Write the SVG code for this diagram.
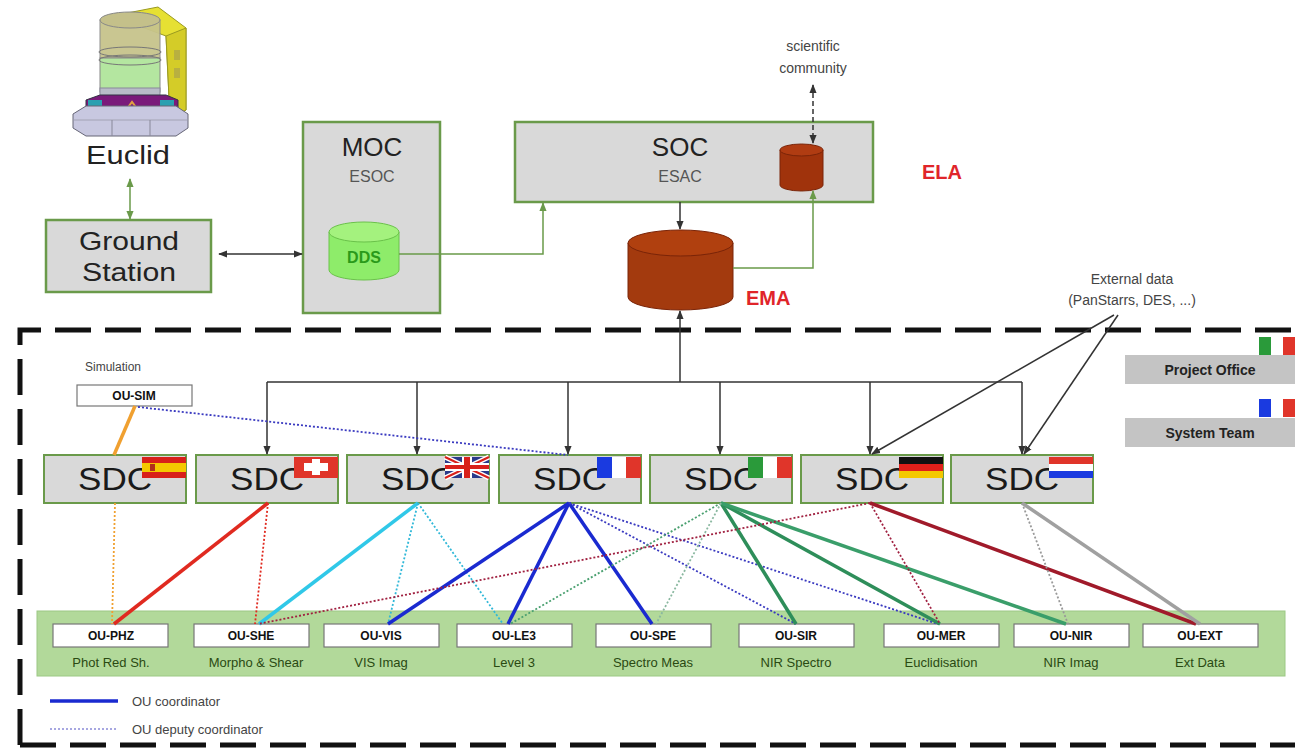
<svg xmlns="http://www.w3.org/2000/svg" width="1295" height="750" viewBox="0 0 1295 750">
<style>
  text { font-family: "Liberation Sans", Arial, sans-serif; }
  .box { fill: #d9d9d9; stroke: #6a9a4a; stroke-width: 2.5; }
  .sdc { fill: #d9d9d9; stroke: #6a9a4a; stroke-width: 2; }
  .big { font-size: 26px; fill: #222; text-anchor: middle; }
  .sdct { font-size: 31px; fill: #1a1a1a; }
  .sub { font-size: 16px; fill: #555; text-anchor: middle; }
  .red { font-size: 20px; font-weight: bold; fill: #e0252a; }
  .ou { fill: #fff; stroke: #777; stroke-width: 1.2; }
  .oul { font-size: 12px; font-weight: bold; fill: #111; text-anchor: middle; }
  .oud { font-size: 13px; fill: #2a4a12; text-anchor: middle; }
  .grey { font-size: 14px; fill: #444; text-anchor: middle; }
  .lk { fill: none; stroke: #333; stroke-width: 1.5; }
  .gk { fill: none; stroke: #6a9a4a; stroke-width: 1.5; }
  .co { fill: none; stroke-width: 3.5; }
  .dp { fill: none; stroke-width: 1.8; stroke-dasharray: 2 2; }
</style>
<defs>
  <marker id="ah" viewBox="0 0 10 10" refX="9" refY="5" markerWidth="6" markerHeight="6" orient="auto-start-reverse">
    <path d="M0,1 L10,5 L0,9 z" fill="#333"/>
  </marker>
  <marker id="ahg" viewBox="0 0 10 10" refX="9" refY="5" markerWidth="6" markerHeight="6" orient="auto-start-reverse">
    <path d="M0,1 L10,5 L0,9 z" fill="#6a9a4a"/>
  </marker>
</defs>

<!-- spacecraft -->
<g id="euclid">
  <!-- sunshield -->
  <polygon points="112,16 158,7 186,28 186,110 170,118 166,36" fill="#e6e033" stroke="#9a9a20" stroke-width="1"/>
  <polygon points="166,36 186,28 186,110 170,118" fill="#d4cc28" stroke="#9a9a20" stroke-width="1"/>
  <rect x="174" y="50" width="6" height="10" fill="#b8b040"/>
  <rect x="174" y="68" width="6" height="10" fill="#b8b040"/>
  <!-- telescope tube -->
  <rect x="100" y="20" width="60" height="38" fill="#c7c48c" stroke="#888" stroke-width="1" opacity="0.95"/>
  <rect x="100" y="58" width="60" height="34" fill="#b4e6a0" stroke="#888" stroke-width="1"/>
  <ellipse cx="130" cy="20" rx="30" ry="8" fill="#c4c08a" stroke="#888"/>
  <ellipse cx="130" cy="52" rx="31" ry="5" fill="none" stroke="#777"/>
  <ellipse cx="130" cy="60" rx="31" ry="5" fill="none" stroke="#777"/>
  <rect x="100" y="88" width="60" height="9" fill="#b8bcc8" stroke="#889" stroke-width="1"/>
  <!-- service module -->
  <polygon points="86,100 100,95 166,95 178,100 178,114 166,118 100,118 86,114" fill="#7a1a7a" stroke="#334" stroke-width="1"/>
  <rect x="88" y="100" width="14" height="12" fill="#2aa0b0"/>
  <rect x="160" y="100" width="14" height="12" fill="#2aa0b0"/>
  <path d="M120,118 L132,102 L144,118" fill="none" stroke="#e0a040" stroke-width="2"/>
  <polygon points="73,114 86,106 176,106 188,114 188,128 176,136 86,136 73,128" fill="#c8c8e0" stroke="#667" stroke-width="1"/>
  <line x1="73" y1="120" x2="188" y2="120" stroke="#99a" stroke-width="0.8"/>
  <line x1="112" y1="120" x2="112" y2="136" stroke="#889"/>
  <line x1="150" y1="120" x2="150" y2="136" stroke="#889"/>
  <text x="128" y="164" font-size="26" fill="#222" text-anchor="middle" textLength="84" lengthAdjust="spacingAndGlyphs">Euclid</text>
</g>

<!-- ground segment boxes -->
<g id="ground-station">
  <rect class="box" x="46" y="220" width="165" height="72"/>
  <text class="big" x="129" y="250" font-size="25" textLength="100" lengthAdjust="spacingAndGlyphs">Ground</text>
  <text class="big" x="129" y="281" font-size="25" textLength="94" lengthAdjust="spacingAndGlyphs">Station</text>
</g>

<g id="moc">
  <rect class="box" x="303" y="122" width="137" height="191"/>
  <text class="big" x="372" y="156" font-size="30">MOC</text>
  <text class="sub" x="372" y="182">ESOC</text>
</g>
<g id="dds">
  <path d="M329,232 V270 A35,10 0 0 0 399,270 V232" fill="#8eec6a" stroke="#6ac24a"/>
  <ellipse cx="364" cy="232" rx="35" ry="10" fill="#a4f27e" stroke="#6ac24a"/>
  <text x="364" y="263" font-size="16" font-weight="bold" fill="#2a9a1a" text-anchor="middle">DDS</text>
</g>

<g id="soc">
  <rect class="box" x="515" y="122" width="358" height="80"/>
  <text class="big" x="680" y="156" font-size="30">SOC</text>
  <text class="sub" x="680" y="182">ESAC</text>
</g>
<g id="ela">
  <path d="M780,150 V185 A21.5,6 0 0 0 823,185 V150" fill="#a0330c" stroke="#7a2408"/>
  <ellipse cx="801.5" cy="150" rx="21.5" ry="6" fill="#b03c12" stroke="#7a2408"/>
  <text class="red" x="922" y="179">ELA</text>
</g>
<g id="ema">
  <path d="M628,243 V297 A52.5,13 0 0 0 733,297 V243" fill="#a33a0e" stroke="#7a2408"/>
  <ellipse cx="680.5" cy="243" rx="52.5" ry="13" fill="#b0400f" stroke="#7a2408"/>
  <text class="red" x="746" y="305">EMA</text>
</g>

<g id="scientific-community">
  <text class="grey" x="813" y="51">scientific</text>
  <text class="grey" x="813" y="73">community</text>
</g>
<g id="external-data">
  <text class="grey" x="1132" y="284" font-size="15">External data</text>
  <text class="grey" x="1132" y="305" font-size="15">(PanStarrs, DES, ...)</text>
</g>

<!-- ground-segment boundary -->
<path d="M20,745 V330 H1295" fill="none" stroke="#111" stroke-width="5" stroke-dasharray="36 14"/>
<path d="M20,745 H1295" fill="none" stroke="#111" stroke-width="5" stroke-dasharray="36 14"/>

<g id="project-office">
  <rect x="1125" y="355" width="170" height="29" fill="#c4c4c4"/>
  <text x="1210" y="375" font-size="14" font-weight="bold" fill="#222" text-anchor="middle">Project Office</text>
  <rect x="1259" y="337" width="12" height="18" fill="#2a9a3a"/>
  <rect x="1271" y="337" width="12" height="18" fill="#fff"/>
  <rect x="1283" y="337" width="12" height="18" fill="#e0352a"/>
</g>
<g id="system-team">
  <rect x="1125" y="418" width="170" height="29" fill="#c4c4c4"/>
  <text x="1210" y="438" font-size="14" font-weight="bold" fill="#222" text-anchor="middle">System Team</text>
  <rect x="1259" y="399" width="12" height="18" fill="#1a3ae0"/>
  <rect x="1271" y="399" width="12" height="18" fill="#fff"/>
  <rect x="1283" y="399" width="12" height="18" fill="#e0352a"/>
</g>

<g id="ou-sim">
  <text x="113" y="371" font-size="12" fill="#444" text-anchor="middle">Simulation</text>
  <rect class="ou" x="77" y="385" width="115" height="21"/>
  <text class="oul" x="134" y="400">OU-SIM</text>
</g>

<!-- science data centres: label first, national flag drawn over its corner -->
<g id="sdc-es">
  <rect class="sdc" x="44" y="455" width="142" height="48"/>
  <text class="sdct" x="78" y="490" textLength="74" lengthAdjust="spacingAndGlyphs">SDC</text>
  <rect x="142" y="457" width="44" height="6" fill="#d8201a"/>
  <rect x="142" y="463" width="44" height="9" fill="#f4c800"/>
  <rect x="142" y="472" width="44" height="6" fill="#d8201a"/>
  <rect x="150" y="464" width="5" height="7" fill="#b0301a"/>
</g>
<g id="sdc-ch">
  <rect class="sdc" x="196" y="455" width="142" height="48"/>
  <text class="sdct" x="230" y="490" textLength="74" lengthAdjust="spacingAndGlyphs">SDC</text>
  <rect x="294" y="457" width="44" height="21" fill="#e0352a"/>
  <rect x="312" y="459" width="8" height="16" fill="#fff"/>
  <rect x="304" y="463" width="24" height="8" fill="#fff"/>
</g>
<g id="sdc-uk">
  <rect class="sdc" x="347" y="455" width="142" height="48"/>
  <text class="sdct" x="381" y="490" textLength="74" lengthAdjust="spacingAndGlyphs">SDC</text>
  <rect x="445" y="457" width="44" height="21" fill="#2a3a8a"/>
  <path d="M445,457 L489,478 M489,457 L445,478" stroke="#fff" stroke-width="5"/>
  <path d="M445,457 L489,478 M489,457 L445,478" stroke="#d8201a" stroke-width="2"/>
  <rect x="462" y="457" width="10" height="21" fill="#fff"/>
  <rect x="445" y="463" width="44" height="8" fill="#fff"/>
  <rect x="464" y="457" width="6" height="21" fill="#d8201a"/>
  <rect x="445" y="465" width="44" height="4" fill="#d8201a"/>
</g>
<g id="sdc-fr">
  <rect class="sdc" x="499" y="455" width="142" height="48"/>
  <text class="sdct" x="533" y="490" textLength="74" lengthAdjust="spacingAndGlyphs">SDC</text>
  <rect x="597" y="457" width="15" height="21" fill="#1a3ae0"/>
  <rect x="612" y="457" width="14" height="21" fill="#fff"/>
  <rect x="626" y="457" width="15" height="21" fill="#e0352a"/>
</g>
<g id="sdc-it">
  <rect class="sdc" x="650" y="455" width="142" height="48"/>
  <text class="sdct" x="684" y="490" textLength="74" lengthAdjust="spacingAndGlyphs">SDC</text>
  <rect x="748" y="457" width="15" height="21" fill="#2a9a3a"/>
  <rect x="763" y="457" width="14" height="21" fill="#fff"/>
  <rect x="777" y="457" width="15" height="21" fill="#e0352a"/>
</g>
<g id="sdc-de">
  <rect class="sdc" x="801" y="455" width="142" height="48"/>
  <text class="sdct" x="835" y="490" textLength="74" lengthAdjust="spacingAndGlyphs">SDC</text>
  <rect x="899" y="457" width="44" height="7" fill="#111"/>
  <rect x="899" y="464" width="44" height="7" fill="#e0201a"/>
  <rect x="899" y="471" width="44" height="7" fill="#f4c800"/>
</g>
<g id="sdc-nl">
  <rect class="sdc" x="951" y="455" width="142" height="48"/>
  <text class="sdct" x="985" y="490" textLength="74" lengthAdjust="spacingAndGlyphs">SDC</text>
  <rect x="1049" y="457" width="44" height="7" fill="#e0352a"/>
  <rect x="1049" y="464" width="44" height="7" fill="#fff"/>
  <rect x="1049" y="471" width="44" height="7" fill="#1a3ae0"/>
</g>

<!-- organisation units band -->
<g id="ou-band">
  <rect x="37" y="611" width="1248" height="65" fill="#b2d99a" stroke="#9cc884"/>
</g>
<g id="ou-phz"><rect class="ou" x="53" y="624" width="115" height="23"/><text class="oul" x="111" y="640">OU-PHZ</text><text class="oud" x="111" y="667">Phot Red Sh.</text></g>
<g id="ou-she"><rect class="ou" x="194" y="624" width="115" height="23"/><text class="oul" x="251" y="640">OU-SHE</text><text class="oud" x="256" y="667">Morpho &amp; Shear</text></g>
<g id="ou-vis"><rect class="ou" x="324" y="624" width="115" height="23"/><text class="oul" x="381" y="640">OU-VIS</text><text class="oud" x="381" y="667">VIS Imag</text></g>
<g id="ou-le3"><rect class="ou" x="457" y="624" width="115" height="23"/><text class="oul" x="514" y="640">OU-LE3</text><text class="oud" x="514" y="667">Level 3</text></g>
<g id="ou-spe"><rect class="ou" x="596" y="624" width="115" height="23"/><text class="oul" x="653" y="640">OU-SPE</text><text class="oud" x="653" y="667">Spectro Meas</text></g>
<g id="ou-sir"><rect class="ou" x="739" y="624" width="115" height="23"/><text class="oul" x="796" y="640">OU-SIR</text><text class="oud" x="796" y="667">NIR Spectro</text></g>
<g id="ou-mer"><rect class="ou" x="884" y="624" width="115" height="23"/><text class="oul" x="941" y="640">OU-MER</text><text class="oud" x="941" y="667">Euclidisation</text></g>
<g id="ou-nir"><rect class="ou" x="1014" y="624" width="115" height="23"/><text class="oul" x="1071" y="640">OU-NIR</text><text class="oud" x="1071" y="667">NIR Imag</text></g>
<g id="ou-ext"><rect class="ou" x="1143" y="624" width="115" height="23"/><text class="oul" x="1200" y="640">OU-EXT</text><text class="oud" x="1200" y="667">Ext Data</text></g>

<g id="legend">
  <line x1="50" y1="701" x2="118" y2="701" stroke="#1a2ad0" stroke-width="3.5"/>
  <text x="132" y="706" font-size="13" fill="#444">OU coordinator</text>
  <line x1="50" y1="729" x2="118" y2="729" stroke="#8a8ad8" stroke-width="1.5" stroke-dasharray="2 2"/>
  <text x="132" y="734" font-size="13" fill="#444">OU deputy coordinator</text>
</g>

<g id="connectors">
  <!-- spacecraft link and data flows -->
  <line class="gk" x1="130" y1="179" x2="130" y2="219" marker-start="url(#ahg)" marker-end="url(#ahg)"/>
  <line class="lk" x1="219" y1="254" x2="302" y2="254" marker-start="url(#ah)" marker-end="url(#ah)"/>
  <path class="gk" d="M399,254 H543 V203" marker-end="url(#ahg)"/>
  <line class="lk" x1="680" y1="202" x2="680" y2="229" marker-end="url(#ah)"/>
  <path class="gk" d="M733,268 H813 V191" marker-end="url(#ahg)"/>
  <line class="lk" x1="813" y1="85" x2="813" y2="143" stroke-dasharray="5 3" marker-start="url(#ah)" marker-end="url(#ah)"/>
  <line class="lk" x1="680" y1="382" x2="680" y2="311" marker-end="url(#ah)"/>
  <!-- distribution to SDCs -->
  <line class="lk" x1="267" y1="382" x2="1022" y2="382"/>
  <line class="lk" x1="267" y1="382" x2="267" y2="454" marker-end="url(#ah)"/>
  <line class="lk" x1="417" y1="382" x2="417" y2="454" marker-end="url(#ah)"/>
  <line class="lk" x1="568" y1="382" x2="568" y2="454" marker-end="url(#ah)"/>
  <line class="lk" x1="720" y1="382" x2="720" y2="454" marker-end="url(#ah)"/>
  <line class="lk" x1="870" y1="382" x2="870" y2="454" marker-end="url(#ah)"/>
  <line class="lk" x1="1022" y1="382" x2="1022" y2="454" marker-end="url(#ah)"/>
  <!-- external data -->
  <line class="lk" x1="1114" y1="315" x2="872" y2="454" marker-end="url(#ah)"/>
  <line class="lk" x1="1118" y1="315" x2="1024" y2="454" marker-end="url(#ah)"/>
  <!-- simulation -->
  <line class="co" x1="135" y1="406" x2="114" y2="455" stroke="#f0a030" stroke-width="3"/>
  <line class="dp" x1="138" y1="407" x2="568" y2="455" stroke="#3a3ac0"/>

  <!-- Spain -->
  <line class="dp" x1="115" y1="503" x2="112" y2="624" stroke="#f0a030"/>
  <!-- Switzerland -->
  <line class="co" x1="268" y1="503" x2="114" y2="624" stroke="#e02a20"/>
  <line class="dp" x1="268" y1="503" x2="255" y2="624" stroke="#e02a20"/>
  <!-- United Kingdom -->
  <line class="co" x1="418" y1="503" x2="259" y2="624" stroke="#30c8e8"/>
  <line class="dp" x1="418" y1="503" x2="388" y2="624" stroke="#30b8d8"/>
  <line class="dp" x1="418" y1="503" x2="503" y2="624" stroke="#30b8d8"/>
  <!-- France -->
  <line class="co" x1="569" y1="503" x2="388" y2="624" stroke="#1a2ad0"/>
  <line class="co" x1="569" y1="503" x2="508" y2="624" stroke="#1a2ad0"/>
  <line class="co" x1="569" y1="503" x2="652" y2="624" stroke="#1a2ad0"/>
  <line class="dp" x1="569" y1="503" x2="796" y2="624" stroke="#3a3ac0"/>
  <line class="dp" x1="569" y1="503" x2="938" y2="624" stroke="#3a3ac0"/>
  <!-- Italy -->
  <line class="co" x1="721" y1="503" x2="796" y2="624" stroke="#2e8e5a"/>
  <line class="co" x1="721" y1="503" x2="940" y2="624" stroke="#2e8e5a"/>
  <line class="co" x1="721" y1="503" x2="1066" y2="624" stroke="#3a9e6a"/>
  <line class="dp" x1="721" y1="503" x2="510" y2="624" stroke="#4aa070"/>
  <line class="dp" x1="721" y1="503" x2="656" y2="624" stroke="#8ab8a0"/>
  <!-- Germany -->
  <line class="dp" x1="870" y1="503" x2="258" y2="624" stroke="#a02040"/>
  <line class="dp" x1="870" y1="503" x2="940" y2="624" stroke="#a02040"/>
  <line class="co" x1="870" y1="503" x2="1196" y2="624" stroke="#a01a2a"/>
  <!-- Netherlands -->
  <line class="dp" x1="1022" y1="503" x2="1068" y2="624" stroke="#999"/>
  <line class="co" x1="1022" y1="503" x2="1200" y2="624" stroke="#a0a0a0"/>
</g>
</svg>
